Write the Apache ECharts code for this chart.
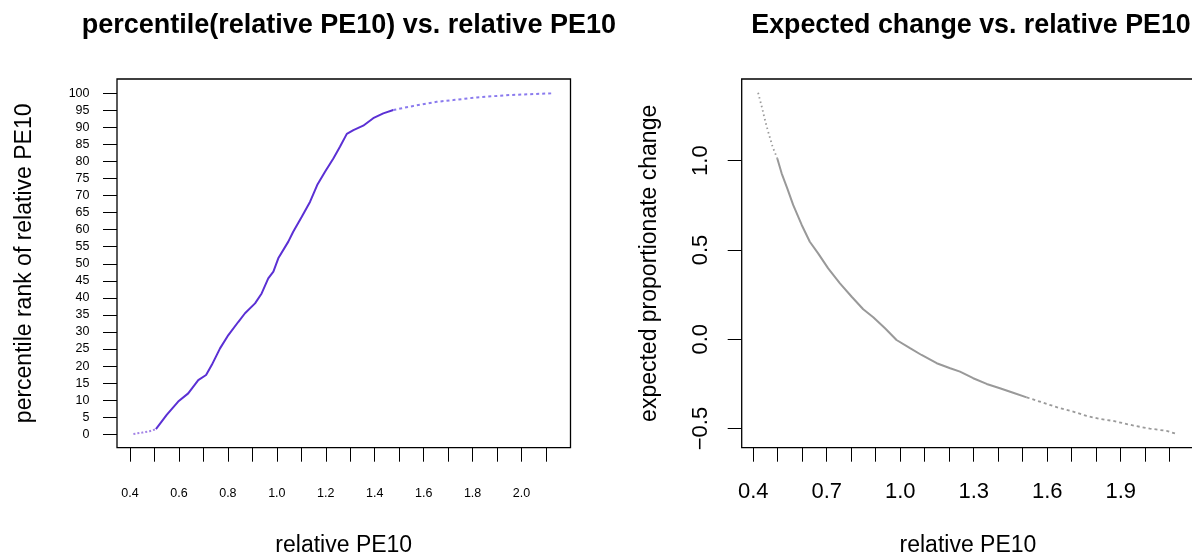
<!DOCTYPE html>
<html>
<head>
<meta charset="utf-8">
<script src="https://cdn.jsdelivr.net/npm/echarts@6/dist/echarts.min.js"></script>
<style>
  html, body { margin: 0; padding: 0; background: #fff; }
  #chart { width: 1192px; height: 556px; }
</style>
</head>
<body>
<div id="chart"></div>
<script>
// ---- percentile rank of relative PE10 (left panel) ----
// sparse low end, dense middle, sparse high end
const pctLowTail = [[0.414, 0.1], [0.45, 0.5], [0.48, 0.9], [0.506, 1.5]];
const pctCore = [
  [0.506, 1.5], [0.55, 5.7], [0.597, 9.6], [0.638, 12.0], [0.679, 15.9],
  [0.711, 17.4], [0.734, 20.3], [0.768, 25.2], [0.802, 29.1], [0.843, 33.0],
  [0.870, 35.5], [0.911, 38.4], [0.938, 41.3], [0.965, 45.7], [0.986, 47.7],
  [1.006, 51.6], [1.047, 56.5], [1.067, 59.4], [1.102, 63.8], [1.136, 68.2],
  [1.165, 73.1], [1.197, 77.0], [1.231, 80.9], [1.258, 84.3], [1.286, 88.1],
  [1.313, 89.2], [1.353, 90.5], [1.394, 92.7], [1.435, 94.1], [1.476, 95.1]
];
const pctHighTail = [
  [1.476, 95.1], [1.558, 96.3], [1.653, 97.5], [1.721, 98.0],
  [1.817, 98.8], [1.953, 99.5], [2.13, 100.0]
];

// ---- expected proportionate change (right panel) ----
const chgHighTail = [
  [0.420, 1.380], [0.436, 1.296], [0.448, 1.227], [0.461, 1.162],
  [0.479, 1.078], [0.498, 1.013]
];
const chgCore = [
  [0.498, 1.013], [0.516, 0.929], [0.539, 0.845], [0.563, 0.752], [0.598, 0.640],
  [0.631, 0.546], [0.665, 0.481], [0.706, 0.397], [0.754, 0.313], [0.802, 0.238],
  [0.849, 0.168], [0.890, 0.123], [0.938, 0.062], [0.985, -0.004], [1.040, -0.050],
  [1.087, -0.088], [1.149, -0.134], [1.204, -0.162], [1.244, -0.181], [1.298, -0.218],
  [1.353, -0.250], [1.407, -0.274], [1.461, -0.299], [1.516, -0.325]
];
const chgLowTail = [
  [1.516, -0.325], [1.570, -0.349], [1.645, -0.383], [1.706, -0.405],
  [1.761, -0.429], [1.815, -0.446], [1.869, -0.457], [1.958, -0.485],
  [2.019, -0.500], [2.087, -0.513], [2.128, -0.530]
];

// ---- tick positions and labels ----
const peTicks = [0.4,0.5,0.6,0.7,0.8,0.9,1.0,1.1,1.2,1.3,1.4,1.5,1.6,1.7,1.8,1.9,2.0,2.1];
const peLabelsLeft = [0.4, 0.6, 0.8, 1.0, 1.2, 1.4, 1.6, 1.8, 2.0];
const peLabelsRight = [0.4, 0.7, 1.0, 1.3, 1.6, 1.9];
const pctTicks = [0,5,10,15,20,25,30,35,40,45,50,55,60,65,70,75,80,85,90,95,100];
const chgTicks = [-0.5, 0.0, 0.5, 1.0];

const FONT = "'Liberation Sans', Arial, Helvetica, sans-serif";
const tickStyle = { show: true, length: 14, lineStyle: { color: '#000', width: 1 } };
const noLine = { show: false, onZero: false };
const nameStyle = { fontFamily: FONT, fontSize: 23, color: '#000' };

const chart = echarts.init(document.getElementById('chart'), null, { renderer: 'canvas' });

chart.setOption({
  animation: false,
  backgroundColor: '#fff',
  textStyle: { fontFamily: FONT, color: '#000' },
  title: [
    {
      text: 'percentile(relative PE10) vs. relative PE10',
      left: 343.8, top: 7, textAlign: 'center',
      textStyle: { fontFamily: FONT, fontWeight: 'bold', fontSize: 27, color: '#000' }
    },
    {
      text: 'Expected change vs. relative PE10',
      left: 966, top: 7, textAlign: 'center',
      textStyle: { fontFamily: FONT, fontWeight: 'bold', fontSize: 26.8, color: '#000' }
    }
  ],
  grid: [
    { left: 117, top: 79, width: 453.5, height: 368.7, show: true, outerBoundsMode: 'none',
      borderColor: '#000', borderWidth: 1.3, backgroundColor: 'transparent', containLabel: false },
    { left: 741.7, top: 79, width: 452.5, height: 368.7, show: true, outerBoundsMode: 'none',
      borderColor: '#000', borderWidth: 1.3, backgroundColor: 'transparent', containLabel: false }
  ],
  xAxis: [
    {
      gridIndex: 0, type: 'value', min: 0.347, max: 2.2,
      name: 'relative PE10', nameLocation: 'middle', nameGap: 86.5,
      nameTextStyle: nameStyle,
      axisLine: noLine,
      axisTick: Object.assign({ customValues: peTicks }, tickStyle),
      axisLabel: { customValues: peLabelsLeft, margin: 39, fontSize: 12.5, color: '#000',
        fontFamily: FONT, formatter: v => v.toFixed(1) },
      splitLine: { show: false }
    },
    {
      gridIndex: 1, type: 'value', min: 0.353, max: 2.2,
      name: 'relative PE10', nameLocation: 'middle', nameGap: 86.5,
      nameTextStyle: nameStyle,
      axisLine: noLine,
      axisTick: Object.assign({ customValues: peTicks }, tickStyle),
      axisLabel: { customValues: peLabelsRight, margin: 33, fontSize: 22, color: '#000',
        fontFamily: FONT, formatter: v => v.toFixed(1) },
      splitLine: { show: false }
    }
  ],
  yAxis: [
    {
      gridIndex: 0, type: 'value', min: -3.93, max: 104.19,
      name: 'percentile rank of relative PE10', nameLocation: 'middle', nameGap: 80.5,
      nameTextStyle: nameStyle,
      axisLine: noLine,
      axisTick: Object.assign({ customValues: pctTicks }, tickStyle),
      axisLabel: { customValues: pctTicks, margin: 27.5, fontSize: 12.5, color: '#000', fontFamily: FONT },
      splitLine: { show: false }
    },
    {
      gridIndex: 1, type: 'value', min: -0.607, max: 1.457,
      name: 'expected proportionate change', nameLocation: 'middle', nameGap: 80.5,
      nameTextStyle: nameStyle,
      axisLine: noLine,
      axisTick: Object.assign({ customValues: chgTicks }, tickStyle),
      axisLabel: { customValues: chgTicks, margin: 30, fontSize: 22, color: '#000', fontFamily: FONT,
        rotate: 90, formatter: v => (v < 0 ? '\u2212' + Math.abs(v).toFixed(1) : v.toFixed(1)) },
      splitLine: { show: false }
    }
  ],
  series: [
    { type: 'line', xAxisIndex: 0, yAxisIndex: 0, data: pctLowTail, symbol: 'none',
      lineStyle: { color: '#a383e6', width: 2, type: [2, 2] } },
    { type: 'line', xAxisIndex: 0, yAxisIndex: 0, data: pctCore, symbol: 'none',
      lineStyle: { color: '#5b30d4', width: 2 } },
    { type: 'line', xAxisIndex: 0, yAxisIndex: 0, data: pctHighTail, symbol: 'none',
      lineStyle: { color: '#8a7aee', width: 2, type: [3, 3] } },
    { type: 'line', xAxisIndex: 1, yAxisIndex: 1, data: chgHighTail, symbol: 'none',
      lineStyle: { color: '#9a9a9a', width: 1.8, type: [1.5, 3] } },
    { type: 'line', xAxisIndex: 1, yAxisIndex: 1, data: chgCore, symbol: 'none',
      lineStyle: { color: '#999999', width: 2 } },
    { type: 'line', xAxisIndex: 1, yAxisIndex: 1, data: chgLowTail, symbol: 'none',
      lineStyle: { color: '#9a9a9a', width: 1.8, type: [3, 3] } }
  ]
});
</script>
</body>
</html>
